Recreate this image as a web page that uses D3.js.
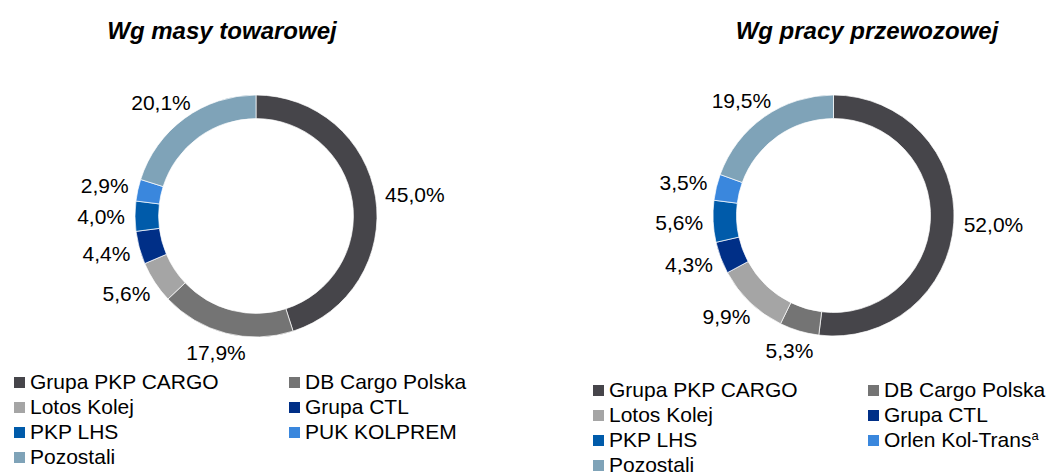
<!DOCTYPE html>
<html>
<head>
<meta charset="utf-8">
<script src="https://cdn.jsdelivr.net/npm/d3@7"></script>
<style>
  body { margin: 0; background: #fff; }
  svg text { font-family: Arial, "Liberation Sans", sans-serif; fill: #000; }
</style>
</head>
<body>
<svg id="chart" width="1046" height="473"></svg>
<script>
// data
var massTitle = "Wg masy towarowej";
var workTitle = "Wg pracy przewozowej";
var massNames = ["Grupa PKP CARGO", "DB Cargo Polska", "Lotos Kolej", "Grupa CTL", "PKP LHS", "PUK KOLPREM", "Pozostali"];
var workNames = ["Grupa PKP CARGO", "DB Cargo Polska", "Lotos Kolej", "Grupa CTL", "PKP LHS", "Orlen Kol-Trans", "Pozostali"];
var massShares = [45.0, 17.9, 5.6, 4.4, 4.0, 2.9, 20.1];
var workShares = [52.0, 5.3, 9.9, 4.3, 5.6, 3.5, 19.5];
var sliceColors = ["#46454a", "#747474", "#a5a5a5", "#002f87", "#005baa", "#3a87dd", "#7fa3b8"];

var svg = d3.select("#chart");
var pl = d3.formatLocale({ decimal: ",", thousands: " ", grouping: [3], currency: ["", " zł"] });
var fmt = pl.format(".1f");

var color = d3.scaleOrdinal().domain(d3.range(7)).range(sliceColors);

function donut(opts) {
    var g = svg.append("g").attr("transform", "translate(" + opts.cx + "," + opts.cy + ")");
    var pie = d3.pie().sort(null).value(function(d) { return d; });
    var arcs = pie(opts.values);
    var arc = d3.arc().innerRadius(opts.r * 0.805).outerRadius(opts.r);

    g.selectAll("path")
        .data(arcs)
        .join("path")
        .attr("d", arc)
        .attr("fill", function(d, i) { return color(i); })
        .attr("stroke", "#fff")
        .attr("stroke-width", 0.7);

    // labels outside end, nudged out by half their box
    var gap = 10;
    g.selectAll("text.lbl")
        .data(arcs)
        .join("text")
        .attr("class", "lbl")
        .attr("text-anchor", "middle")
        .attr("dominant-baseline", "central")
        .style("font-size", "21px")
        .text(function(d) { return fmt(d.data) + "%"; })
        .each(function(d) {
            var a = (d.startAngle + d.endAngle) / 2;
            var dx = Math.sin(a), dy = -Math.cos(a);
            var w = this.getComputedTextLength();
            var h = 20;
            var x = (opts.r + gap) * dx + dx * w / 2;
            var y = (opts.r + gap) * dy + dy * h / 2;
            d3.select(this).attr("x", x).attr("y", y);
        });

    // title
    svg.append("text")
        .attr("x", opts.titleX)
        .attr("y", 39)
        .attr("text-anchor", "middle")
        .style("font-size", "24px")
        .style("font-weight", "bold")
        .style("font-style", "italic")
        .text(opts.title);

    // legend, two columns
    var leg = svg.append("g");
    var items = leg.selectAll("g")
        .data(opts.names)
        .join("g")
        .attr("transform", function(d, i) {
            return "translate(" + (opts.legX + (i % 2) * 275) + "," + (opts.legY + Math.floor(i / 2) * 25) + ")";
        });
    items.append("rect")
        .attr("x", 0).attr("y", -12)
        .attr("width", 11).attr("height", 11)
        .attr("fill", function(d, i) { return color(i); });
    var txt = items.append("text")
        .attr("x", 16)
        .attr("y", 0)
        .style("font-size", "21px")
        .text(function(d) { return d; });
    if (opts.supIndex != null) {
        txt.filter(function(d, i) { return i === opts.supIndex; })
            .append("tspan")
            .attr("dy", -7)
            .style("font-size", "13px")
            .text("a");
    }
}

donut({ cx: 256, cy: 216, r: 121, values: massShares, names: massNames,
        title: massTitle, titleX: 222, legX: 14, legY: 389 });
donut({ cx: 833.5, cy: 215.5, r: 120.5, values: workShares, names: workNames,
        title: workTitle, titleX: 867, legX: 593, legY: 397, supIndex: 5 });
</script>
</body>
</html>
